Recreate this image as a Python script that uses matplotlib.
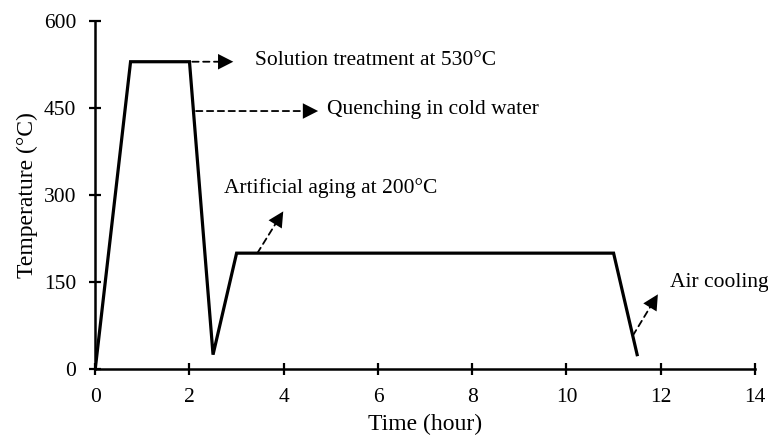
import matplotlib
matplotlib.use("Agg")
import matplotlib.pyplot as plt

plt.rcParams['font.family'] = ['Liberation Serif', 'DejaVu Serif']

time_h = [0, 0.75, 2, 2.5, 3, 11, 11.5]
temp_c = [0, 530, 530, 25, 200, 200, 25]
xticks = [0, 2, 4, 6, 8, 10, 12, 14]
yticks = [0, 150, 300, 450, 600]

notes = ["Solution treatment at 530\u00b0C", "Quenching in cold water",
         "Artificial aging at 200\u00b0C", "Air cooling"]
arrow_from = [(2.06, 530), (2.14, 445), (3.44, 200), (11.41, 58)]
arrow_to = [(2.93, 530), (4.73, 445), (3.99, 272), (11.94, 129)]
text_at = [(3.39, 532), (4.92, 448), (2.74, 312), (12.2, 150)]

fig = plt.figure(figsize=(7.68, 4.40), dpi=100)
ax = fig.add_axes([0.124, 0.161, 0.859, 0.791])
ax.plot(time_h, temp_c, color='black', lw=2.3, solid_joinstyle='miter')
ax.set_xlim(0, 14)
ax.set_ylim(0, 600)
ax.set_xticks(xticks)
ax.set_yticks(yticks)
for s in ['top', 'right']:
    ax.spines[s].set_visible(False)
for s in ['left', 'bottom']:
    ax.spines[s].set_linewidth(1.8)
ax.tick_params(direction='inout', length=9, width=1.6, labelsize=15.5)
ax.tick_params(axis='x', pad=9)
ax.tick_params(axis='y', pad=9)
ax.set_xlabel("Time (hour)", fontsize=17, labelpad=5)
ax.set_ylabel("Temperature (\u00b0C)", fontsize=17, labelpad=4)

for t, p0, p1, pt in zip(notes, arrow_from, arrow_to, text_at):
    # dashed stem
    ax.annotate("", xy=p1, xytext=p0,
                arrowprops=dict(arrowstyle='-', linestyle=(0, (3.5, 2.5)), lw=1.3,
                                color='black', shrinkA=0, shrinkB=6))
    # solid head
    ax.annotate("", xy=p1, xytext=p0,
                arrowprops=dict(arrowstyle='-|>,head_length=0.55,head_width=0.28',
                                lw=0, color='black', mutation_scale=20,
                                shrinkA=0, shrinkB=0))
    ax.text(pt[0], pt[1], t, fontsize=15.5, ha='left', va='center')

fig.savefig("out.png", dpi=100)
